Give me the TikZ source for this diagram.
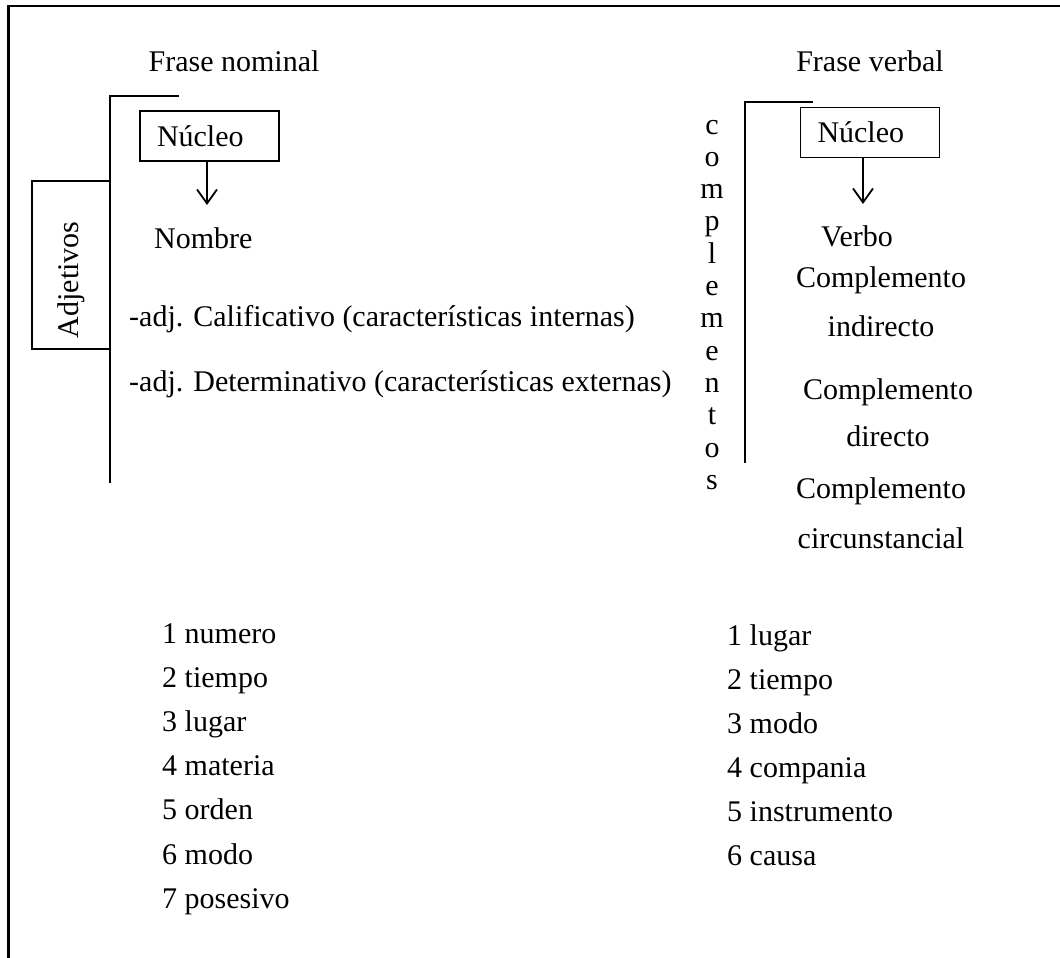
\documentclass[tikz,border=0pt]{standalone}
\usepackage{fontspec}
\setmainfont{Liberation Serif}
\usepackage{tikz}
\usetikzlibrary{arrows.meta,positioning}
\tikzset{
  txt/.style={ font=\fontsize{30}{36}\selectfont, inner sep=0pt }
}
\tikzset{
  nucbox/.style={ txt, draw, line width=1.2pt, text width=105pt, align=left, inner xsep=17pt, minimum height=50pt }
}
\tikzset{
  adjbox/.style={ txt, draw, line width=2pt, rotate=90, text width=146pt, align=left, inner xsep=11pt, minimum height=78pt }
}
\tikzset{
  raya/.style={ line width=2.3pt }
}
\tikzset{
  flecha/.style={ line width=1.8pt, -{Straight Barb[length=14pt, width=20pt, line width=1.8pt]} }
}

\begin{document}
\begin{tikzpicture}[x=1pt, y=-1pt]
      \useasboundingbox (0, 0) rectangle (1060, 958);
      % marco
      \coordinate (mA) at (8.5, 958);
      \coordinate (mB) at (8.5, 6);
      \coordinate (mC) at (1060, 6);
      \draw[raya] (mA) -- (mB) -- (mC);
      % frase nominal
      \node[txt, anchor=base] (fn) at (234, 71) {Frase nominal};
      \coordinate (llaveL1) at (179, 96);
      \coordinate (llaveL2) at (110, 96);
      \coordinate (llaveL3) at (110, 483);
      \draw[raya] (llaveL1) -- (llaveL2) -- (llaveL3);
      \node[nucbox] (nucL) at (209.5, 136) {Núcleo};
      \node[txt, anchor=base west] (nombre) at (154, 248) {Nombre};
      \draw[flecha, shorten >=22pt] ([xshift=-2.5pt]nucL.south) -- ([xshift=-2.5pt]nucL.south |- nombre.north);
      \node[adjbox] (adj) at (71, 265) {Adjetivos};
      \node[txt, anchor=base west] (calif) at (129, 326) {-adj. Calificativo (características internas)};
      \node[txt, anchor=base west] (deter) at (129, 391) {-adj. Determinativo (características externas)};
      % frase verbal
      \node[txt, anchor=base] (fv) at (870, 71) {Frase verbal};
      \coordinate (llaveR1) at (813, 102);
      \coordinate (llaveR2) at (745, 102);
      \coordinate (llaveR3) at (745, 463);
      \draw[raya] (llaveR1) -- (llaveR2) -- (llaveR3);
      \foreach \letra [count=\i from 0] in {c,o,m,p,l,e,m,e,n,t,o,s}
        \node[txt, anchor=base] (comp\i) at (712, 134+32.3*\i) {\letra};
      \node[nucbox] (nucR) at (870, 132.5) {Núcleo};
      \node[txt, anchor=base west] (verbo) at (821, 246) {Verbo};
      \draw[flecha, shorten >=21pt] ([xshift=-7pt]nucR.south) -- ([xshift=-7pt]nucR.south |- verbo.north);
      \node[txt, anchor=base] (ci1) at (881, 287) {Complemento};
      \node[txt, anchor=base] (ci2) at (881, 336) {indirecto};
      \node[txt, anchor=base] (cd1) at (888, 399) {Complemento};
      \node[txt, anchor=base] (cd2) at (888, 446) {directo};
      \node[txt, anchor=base] (cc1) at (881, 498) {Complemento};
      \node[txt, anchor=base] (cc2) at (881, 548) {circunstancial};
      % listas
      \foreach \item [count=\i from 0] in {1 numero, 2 tiempo, 3 lugar, 4 materia, 5 orden, 6 modo, 7 posesivo}
        \node[txt, anchor=base west] (adjL\i) at (162, 643+44.2*\i) {\item};
      \foreach \item [count=\i from 0] in {1 lugar, 2 tiempo, 3 modo, 4 compania, 5 instrumento, 6 causa}
        \node[txt, anchor=base west] (ccR\i) at (727, 645+44*\i) {\item};
\end{tikzpicture}
\end{document}
